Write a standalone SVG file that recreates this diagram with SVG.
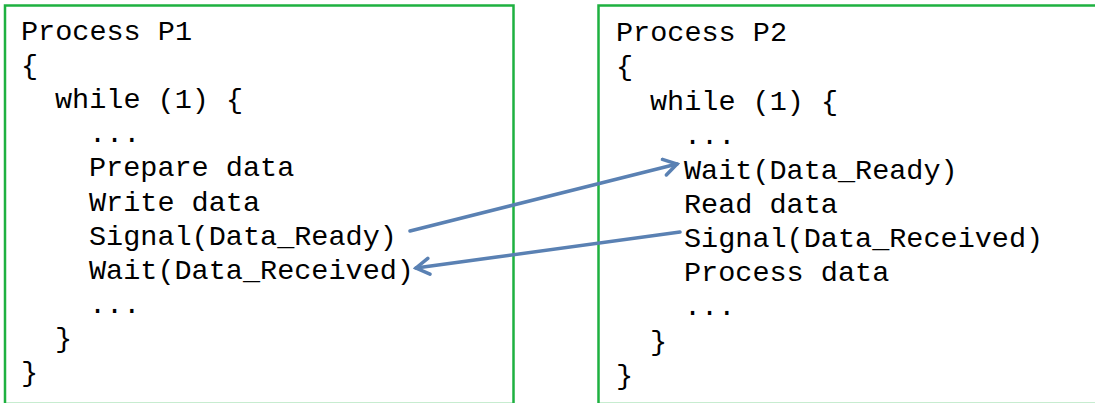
<svg xmlns="http://www.w3.org/2000/svg" width="1095" height="403" viewBox="0 0 1095 403">
<defs>
<style>
.box{fill:#fff;stroke:#1eb140;stroke-width:2.5}
.code{font-family:"Liberation Mono","Courier New",monospace;font-size:28.5px;fill:#000;white-space:pre}
.conn{fill:none;stroke:#5a81b3;stroke-width:3.5;stroke-linecap:round}
</style>
<marker id="arr" viewBox="0 0 20 20" refX="17" refY="10" markerWidth="20" markerHeight="20" markerUnits="userSpaceOnUse" orient="auto">
<polyline points="4,2 17,10 4,18" fill="none" stroke="#5a81b3" stroke-width="3.5" stroke-linecap="round" stroke-linejoin="miter"/>
</marker>
</defs>
<rect width="1095" height="403" fill="#fff"/>
<g id="p1">
<rect class="box" x="5" y="5.5" width="508.5" height="398.5"/>
<text class="code" x="21" y="40">Process P1</text>
<text class="code" x="21" y="74">{</text>
<text class="code" x="55" y="108">while (1) {</text>
<text class="code" x="89" y="142">...</text>
<text class="code" x="89" y="176">Prepare data</text>
<text class="code" x="89" y="210.5">Write data</text>
<text class="code" x="89" y="244.5">Signal(Data_Ready)</text>
<text class="code" x="89" y="278.5">Wait(Data_Received)</text>
<text class="code" x="89" y="312.5">...</text>
<text class="code" x="55" y="347">}</text>
<text class="code" x="21" y="381">}</text>
</g>
<g id="p2">
<rect class="box" x="598.5" y="5.5" width="520" height="398.5"/>
<text class="code" x="616" y="41">Process P2</text>
<text class="code" x="616" y="75.3">{</text>
<text class="code" x="650" y="109.6">while (1) {</text>
<text class="code" x="684" y="143.9">...</text>
<text class="code" x="684" y="178.5">Wait(Data_Ready)</text>
<text class="code" x="684" y="212.5">Read data</text>
<text class="code" x="684" y="246.8">Signal(Data_Received)</text>
<text class="code" x="684" y="281">Process data</text>
<text class="code" x="684" y="315.4">...</text>
<text class="code" x="650" y="349.7">}</text>
<text class="code" x="616" y="384">}</text>
</g>
<g id="connectors">
<line class="conn" x1="410" y1="231" x2="677" y2="164" marker-end="url(#arr)"/>
<line class="conn" x1="680" y1="232" x2="416" y2="268" marker-end="url(#arr)"/>
</g>
</svg>
